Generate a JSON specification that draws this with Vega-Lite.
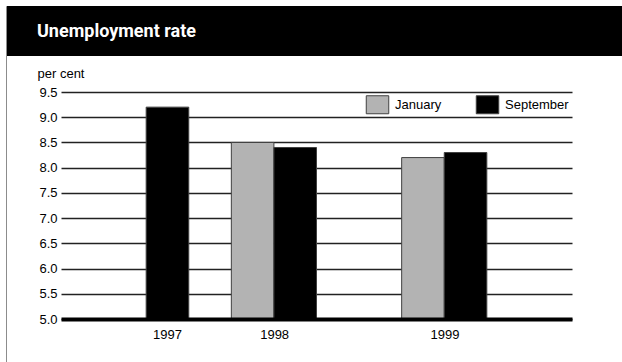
{
  "$schema": "https://vega.github.io/schema/vega-lite/v6.json",
  "padding": {"left": 5, "top": 5, "right": 0, "bottom": 0},
  "autosize": {"type": "pad"},
  "background": "white",
  "config": {
    "view": {"stroke": null},
    "font": "Liberation Sans",
    "concat": {"spacing": 0}
  },
  "datasets": {
    "rates": [
      {"period": "Sep 1997", "year": "1997", "month": "September", "rate": 9.2},
      {"period": "Jan 1998", "year": "1998", "month": "January", "rate": 8.5},
      {"period": "Sep 1998", "year": "1998", "month": "September", "rate": 8.4},
      {"period": "Jan 1999", "year": "1999", "month": "January", "rate": 8.2},
      {"period": "Sep 1999", "year": "1999", "month": "September", "rate": 8.3}
    ]
  },
  "bounds": "flush",
  "spacing": 0,
  "resolve": {"scale": {"color": "independent"}, "legend": {"color": "independent"}},
  "hconcat": [
    {
      "width": 0.001,
      "height": 357,
      "data": {"values": []},
      "mark": "point",
      "view": {"stroke": "#8c8c8c", "strokeWidth": 1, "fill": null}
    },
    {
      "bounds": "flush",
      "center": true,
      "spacing": 36,
      "resolve": {"scale": {"color": "independent"}, "legend": {"color": "independent"}},
      "vconcat": [
        {
          "width": 619,
          "height": 50,
          "data": {"values": []},
          "mark": "point",
          "view": {"fill": "black", "stroke": null},
          "title": {
            "text": "Unemployment rate",
            "anchor": "start",
            "frame": "group",
            "orient": "top",
            "offset": -49,
            "dx": 30,
            "baseline": "alphabetic",
            "color": "white",
            "font": "Roboto",
            "fontSize": 18,
            "fontWeight": "bold"
          }
        },
        {
          "width": 511,
          "height": 227,
          "data": {"name": "rates"},
          "view": {"stroke": null},
          "mark": {"type": "bar", "stroke": "#404040", "strokeWidth": 1, "clip": true},
          "encoding": {
            "x": {
              "field": "period",
              "type": "nominal",
              "sort": null,
              "scale": {
                "domain": ["gap a", "gap b", "Sep 1997", "gap c", "Jan 1998", "Sep 1998", "gap d", "gap e", "Jan 1999", "Sep 1999", "gap f", "gap g"],
                "paddingInner": 0,
                "paddingOuter": 0
              },
              "axis": {
                "title": null,
                "values": ["Sep 1997", "Jan 1998", "Jan 1999"],
                "labelExpr": "datum.value == 'Sep 1997' ? '1997' : datum.value == 'Jan 1998' ? '1998' : '1999'",
                "labelOffset": {"condition": {"test": "datum.value == 'Sep 1997'", "value": 0}, "value": 22},
                "labelAngle": 0,
                "labelFont": "Liberation Sans",
                "labelFontSize": 13,
                "labelColor": "black",
                "labelPadding": 9,
                "ticks": false,
                "grid": false,
                "domain": true,
                "domainColor": "black",
                "domainWidth": 4,
                "zindex": 1
              }
            },
            "y": {
              "field": "rate",
              "type": "quantitative",
              "scale": {"domain": [5, 9.5], "nice": false, "zero": false},
              "axis": {
                "values": [5, 5.5, 6, 6.5, 7, 7.5, 8, 8.5, 9, 9.5],
                "format": ".1f",
                "labelFont": "Liberation Sans",
                "labelFontSize": 13,
                "labelColor": "black",
                "labelPadding": 4,
                "ticks": false,
                "domain": false,
                "grid": true,
                "gridColor": "#222222",
                "gridWidth": 1.5,
                "title": "per cent",
                "titleAngle": 0,
                "titleAlign": "left",
                "titleBaseline": "alphabetic",
                "titleX": -24,
                "titleY": -15,
                "titleFont": "Liberation Sans",
                "titleFontSize": 13,
                "titleFontWeight": "normal",
                "titleColor": "black"
              }
            },
            "color": {
              "field": "month",
              "type": "nominal",
              "scale": {"domain": ["January", "September"], "range": ["#b3b3b3", "#000000"]},
              "legend": {
                "title": null,
                "orient": "top-right",
                "direction": "horizontal",
                "offset": 3,
                "padding": 0,
                "symbolType": "M-1.25,-1H1.25V1H-1.25Z",
                "symbolSize": 324,
                "symbolStrokeColor": "#404040",
                "symbolStrokeWidth": 1,
                "symbolOpacity": 1,
                "labelOffset": 8,
                "columnPadding": 32,
                "labelFont": "Liberation Sans",
                "labelFontSize": 13,
                "labelColor": "black",
                "fillColor": "white"
              }
            }
          }
        }
      ]
    }
  ]
}
